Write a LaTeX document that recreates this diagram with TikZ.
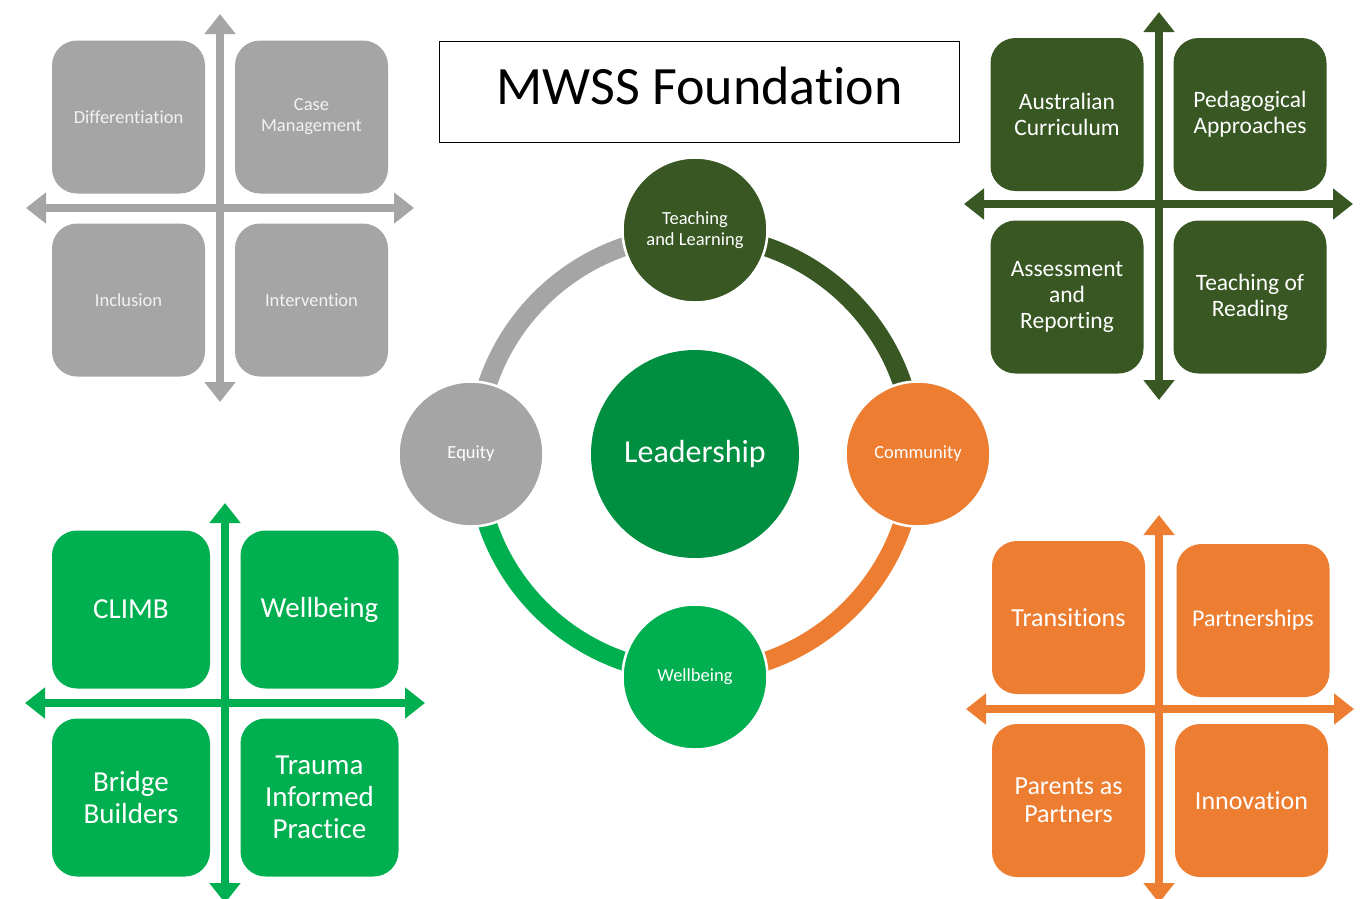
\documentclass[tikz,border=0pt]{standalone}
\usepackage{fontspec}
\setmainfont{Carlito}[Ligatures=NoCommon]
\usetikzlibrary{arrows.meta}
\definecolor{mwgray}{HTML}{A5A5A5}
\definecolor{mwolive}{HTML}{385723}
\definecolor{mworange}{HTML}{ED7D31}
\definecolor{mwgreen}{HTML}{00B050}
\definecolor{mwlead}{HTML}{008F40}

\begin{document}
\begin{tikzpicture}[x=1pt, y=-1pt,
    every node/.style={text=white, align=center, inner sep=0pt},
    quadbox/.style={rounded corners=25pt, minimum width=153pt, minimum height=153pt},
    quadarrow/.style={line width=8pt,
      {Triangle[width=30pt,length=20pt]}-{Triangle[width=30pt,length=20pt]}},
    hub/.style={circle, draw=white, line width=2.5pt, minimum size=145pt,
      font=\fontsize{18.5}{21}\selectfont},
    ring/.style={line width=19pt}]

  \useasboundingbox (0,0) rectangle (1370,898);
  \clip (0,0) rectangle (1370,898);

  %% titel
  \node[draw=black, line width=1.2pt, text=black, minimum width=520pt, minimum height=101pt,
        text depth=12pt, font=\fontsize{54}{60}\selectfont] (title) at (699.5,92) {MWSS Foundation};

  %% ring rond leiderschap
  \coordinate (hubc) at (695,454);
  \draw[ring, mwgray]   (hubc) ++(180:219) arc[start angle=180, end angle=270, radius=219];
  \draw[ring, mwolive]  (hubc) ++(270:219) arc[start angle=270, end angle=360, radius=219];
  \draw[ring, mworange] (hubc) ++(0:219)   arc[start angle=0,   end angle=90,  radius=219];
  \draw[ring, mwgreen]  (hubc) ++(90:219)  arc[start angle=90,  end angle=180, radius=219];

  \node[circle, fill=mwlead, minimum size=208pt, font=\fontsize{32}{36}\selectfont]
    (lead) at (hubc) {Leadership};
  \node[hub, fill=mwolive]  (teach)  at (695,230) {Teaching\\and Learning};
  \node[hub, fill=mwgray]   (equity) at (471,454) {Equity};
  \node[hub, fill=mworange] (comm)   at (918,454) {Community};
  \node[hub, fill=mwgreen]  (well)   at (695,677) {Wellbeing};

  %% equity (grijs)
  \coordinate (gN) at (220,14);  \coordinate (gS) at (220,402);
  \coordinate (gW) at (26,208);  \coordinate (gE) at (414,208);
  \draw[quadarrow, mwgray] (gN) -- (gS);
  \draw[quadarrow, mwgray] (gW) -- (gE);
  \begin{scope}[every node/.style={quadbox, fill=mwgray, text=white!95!black,
      align=center, font=\fontsize{18.5}{21}\selectfont}]
    \node (diff)   at (128.5,117) {Differentiation};
    \node (casem)  at (311.5,117) {Case\\Management};
    \node (incl)   at (128.5,300) {Inclusion};
    \node (interv) at (311.5,300) {Intervention};
  \end{scope}

  %% teaching and learning (donkergroen)
  \coordinate (oN) at (1159,12);  \coordinate (oS) at (1159,400);
  \coordinate (oW) at (964,204);  \coordinate (oE) at (1353,204);
  \draw[quadarrow, mwolive] (oN) -- (oS);
  \draw[quadarrow, mwolive] (oW) -- (oE);
  \begin{scope}[every node/.style={quadbox, fill=mwolive, text=white,
      align=center, font=\fontsize{23.5}{26}\selectfont}]
    \node (auscur) at (1067,114.5) {Australian\\Curriculum};
    \node (pedag)  at (1250,114.5) {Pedagogical\\Approaches};
    \node (assess) at (1067,297)   {Assessment\\and\\Reporting};
    \node (tread)  at (1250,297)   {Teaching of\\Reading};
  \end{scope}

  %% wellbeing (groen)
  \coordinate (wN) at (225,503);  \coordinate (wS) at (225,903);
  \coordinate (wW) at (25,703);   \coordinate (wE) at (425,703);
  \draw[quadarrow, mwgreen] (wN) -- (wS);
  \draw[quadarrow, mwgreen] (wW) -- (wE);
  \begin{scope}[every node/.style={quadbox, fill=mwgreen, text=white,
      minimum width=158pt, minimum height=158pt,
      align=center, font=\fontsize{29}{32}\selectfont}]
    \node (climb)  at (131,609.5)   {CLIMB};
    \node (wbq)    at (319.5,609.5) {Wellbeing};
    \node (bridge) at (131,797.5)   {Bridge\\Builders};
    \node (trauma) at (319.5,797.5) {Trauma\\Informed\\Practice};
  \end{scope}

  %% community (oranje)
  \coordinate (cN) at (1159,515); \coordinate (cS) at (1159,903);
  \coordinate (cW) at (966,709);  \coordinate (cE) at (1354,709);
  \draw[quadarrow, mworange] (cN) -- (cS);
  \draw[quadarrow, mworange] (cW) -- (cE);
  \begin{scope}[every node/.style={quadbox, fill=mworange, text=white,
      align=center, font=\fontsize{26}{28}\selectfont}]
    \node (trans)   at (1068.5,617.5) {Transitions};
    \node[font=\fontsize{24}{28}\selectfont] (partner) at (1253,620.5) {Partnerships};
    \node (parents) at (1068.5,800.5) {Parents as\\Partners};
    \node (innov)   at (1251.5,800.5) {Innovation};
  \end{scope}

\end{tikzpicture}
\end{document}
